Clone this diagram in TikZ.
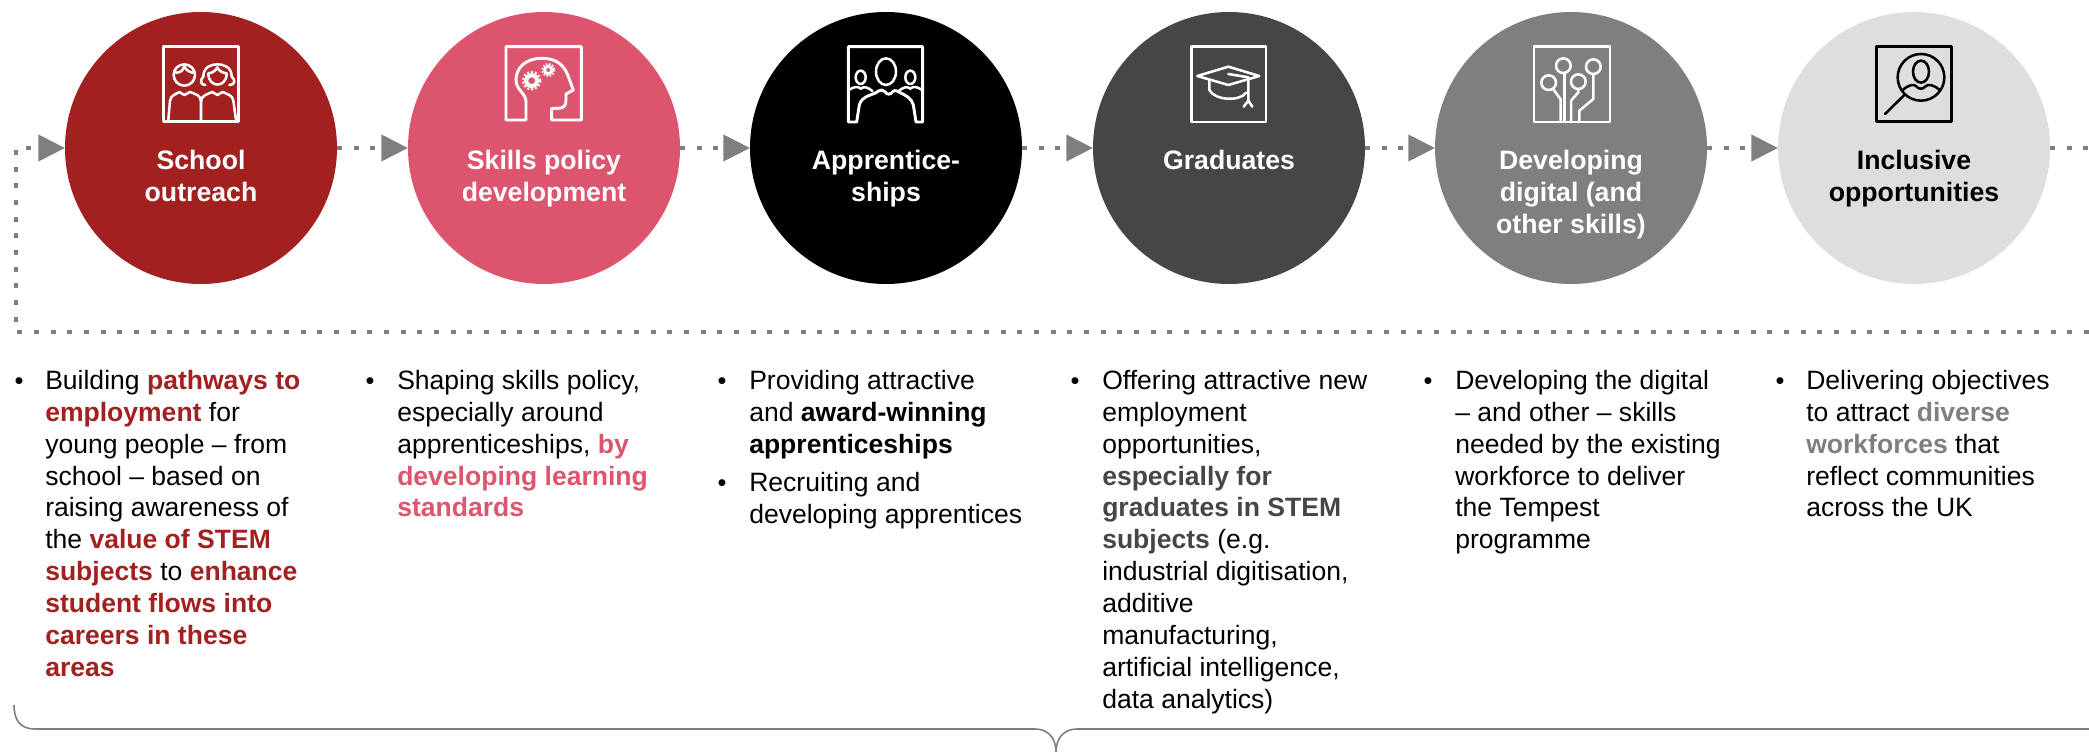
\documentclass[tikz,border=0pt]{standalone}
\usepackage{fontspec}
\setmainfont{Liberation Sans}
\usetikzlibrary{arrows.meta}
\definecolor{cred}{HTML}{A32020}
\definecolor{cpink}{HTML}{DC546E}
\definecolor{cdark}{HTML}{464646}
\definecolor{cgrey}{HTML}{7F7F7F}
\definecolor{clight}{HTML}{DEDEDE}
\newcommand{\hlt}[2]{\textbf{\textcolor{#1}{#2}}}
\tikzset{
  circ/.style={circle,draw=none,minimum size=204pt,inner sep=0pt,outer sep=0pt},
  head/.style={anchor=north,align=center,inner sep=0pt,font=\fontsize{20}{24}\selectfont\bfseries},
  bodytext/.style={anchor=north west,align=left,inner sep=0pt,font=\fontsize{19.9}{23.9}\selectfont},
  bullet/.style={anchor=base,inner sep=0pt,font=\fontsize{19}{20}\selectfont},
  dotline/.style={draw=cgrey,line width=3pt,dash pattern=on 3.75pt off 8.75pt},
  arrowline/.style={dotline,-{Triangle[length=20pt,width=19.5pt,fill=cgrey]}},
  icon/.style={line width=2.2pt,line join=round,line cap=round},
  thin icon/.style={line width=1.9pt,line join=round,line cap=round},
  bracel/.style={draw=cgrey,line width=1.2pt},
}
\begin{document}
\begin{tikzpicture}[x=.75pt,y=-.75pt]
\useasboundingbox (0,0) rectangle (2089,752);
% circles
\node[circ,fill=cred]   (c1) at (201,148) {};
\node[circ,fill=cpink]  (c2) at (544,148) {};
\node[circ,fill=black]  (c3) at (886,148) {};
\node[circ,fill=cdark]  (c4) at (1229,148) {};
\node[circ,fill=cgrey]  (c5) at (1571,148) {};
\node[circ,fill=clight] (c6) at (1914,148) {};
% free ends
\coordinate (rt) at (2089,148);
\coordinate (rb) at (2089,332);
\coordinate (lb) at (16,332);
\coordinate (lt) at (16,148);
% connectors
\draw[arrowline] (rb) -- (lb) -- (lt) -- (c1.west);
\draw[arrowline] (c1.east) -- (c2.west);
\draw[arrowline] (c2.east) -- (c3.west);
\draw[arrowline] (c3.east) -- (c4.west);
\draw[arrowline] (c4.east) -- (c5.west);
\draw[arrowline] (c5.east) -- (c6.west);
\draw[dotline] (c6.east) -- (rt);
% headings
\node[head,text=white] (t1) at (201,150) {School\\outreach};
\node[head,text=white] (t2) at (544,150) {Skills policy\\development};
\node[head,text=white] (t3) at (886,150) {Apprentice-\\ships};
\node[head,text=white] (t4) at (1229,150) {Graduates};
\node[head,text=white] (t5) at (1571,150) {Developing\\digital (and\\other skills)};
\node[head,text=black] (t6) at (1914,150) {Inclusive\\opportunities};
% icon 1
\begin{scope}[shift={(140,30)},x=.25pt,y=-.25pt,draw=white,icon]
\draw (70,50) rectangle (296,274);
\draw[thin icon] (133,135) circle[radius=32];
\draw[thin icon] (108,128) .. controls (125,128) and (130,118) .. (133,110) .. controls (140,122) and (150,128) .. (162,128);
\draw[thin icon] (205,130) .. controls (205,175) and (260,175) .. (260,130) .. controls (250,130) and (235,122) .. (232,112) .. controls (228,122) and (215,130) .. (205,130);
\draw[thin icon] (196,165) .. controls (180,165) and (180,150) .. (190,140) .. controls (190,110) and (215,103) .. (232,103) .. controls (250,103) and (275,110) .. (275,140) .. controls (288,150) and (285,165) .. (268,165);
\draw[thin icon] (85,270) -- (90,212) .. controls (92,195) and (110,192) .. (118,186) -- (133,195) -- (150,186) .. controls (165,192) and (183,195) .. (183,215) -- (183,270);
\draw[thin icon] (183,215) .. controls (183,195) and (205,192) .. (217,186) -- (232,195) -- (248,186) .. controls (260,192) and (278,195) .. (280,212) -- (288,270);
\end{scope}
% icon 2
\begin{scope}[shift={(490,30)},x=.25pt,y=-.25pt,draw=white,icon]
\draw (108,270) -- (48,270) -- (48,50) -- (274,50) -- (274,270) -- (185,270) -- (185,235) -- (205,235) .. controls (222,235) and (228,225) .. (228,212) -- (228,192) -- (250,180) -- (238,148) .. controls (225,105) and (200,85) .. (155,85) .. controls (105,85) and (78,115) .. (78,150) .. controls (78,180) and (108,190) .. (108,215) -- cycle;
\draw[line width=3pt,line cap=butt] (125,152) circle[radius=17];
\draw[line width=1.6pt,line cap=butt,dash pattern=on 1.5pt off 1.5pt] (125,152) circle[radius=26];
\draw[line width=2.2pt,line cap=butt] (175,120) circle[radius=11];
\draw[line width=1.4pt,line cap=butt,dash pattern=on 1.2pt off 1.2pt] (175,120) circle[radius=18];
\end{scope}
% icon 3
\begin{scope}[shift={(830,30)},x=.25pt,y=-.25pt,draw=white,icon]
\draw (80,276) -- (55,276) -- (55,50) -- (278,50) -- (278,276) -- (258,276) -- (250,225) .. controls (245,205) and (230,198) .. (205,185) .. controls (195,180) and (190,182) .. (188,185) .. controls (182,195) and (170,195) .. (165,185) .. controls (160,180) and (150,178) .. (145,183) .. controls (135,195) and (95,195) .. (88,225) -- cycle;
\draw[thin icon] (168,125) ellipse[x radius=30,y radius=40];
\draw[thin icon] (92,142) ellipse[x radius=15,y radius=20];
\draw[thin icon] (241,142) ellipse[x radius=15,y radius=20];
\draw[thin icon] (57,180) .. controls (70,170) and (85,168) .. (92,176) .. controls (100,168) and (115,172) .. (127,183);
\draw[thin icon] (276,180) .. controls (263,170) and (248,168) .. (241,176) .. controls (233,168) and (218,172) .. (206,183);
\end{scope}
% icon 4
\begin{scope}[shift={(1180,30)},x=.25pt,y=-.25pt,draw=white,icon]
\draw (34,50) rectangle (258,276);
\draw[thin icon] (145,110) -- (238,138) -- (145,165) -- (52,138) -- cycle;
\draw[thin icon] (88,152) -- (88,180) .. controls (105,212) and (180,215) .. (198,188);
\draw[thin icon] (145,132) -- (205,142) -- (205,212);
\draw[thin icon] (191,230) -- (205,212) -- (217,230);
\end{scope}
% icon 5
\begin{scope}[shift={(1520,30)},x=.25pt,y=-.25pt,draw=white,icon]
\draw (42,50) rectangle (270,276);
\draw[thin icon] (86,158) circle[radius=22];
\draw[thin icon] (130,107) circle[radius=22];
\draw[thin icon] (175,155) circle[radius=22];
\draw[thin icon] (220,110) circle[radius=22];
\draw[thin icon] (100,178) -- (122,208) -- (122,272);
\draw[thin icon] (134,129) -- (134,272);
\draw[thin icon] (175,177) -- (175,187) -- (153,212) -- (153,272);
\draw[thin icon] (220,132) -- (220,207) -- (178,242) -- (178,272);
\end{scope}
% icon 6
\begin{scope}[shift={(1865,30)},x=.25pt,y=-.25pt,draw=black,icon]
\draw (34,50) rectangle (259,275);
\draw[thin icon] (168,142) circle[radius=70];
\draw[thin icon] (168,125) ellipse[x radius=24,y radius=33];
\draw[thin icon] (113,180) .. controls (130,165) and (148,160) .. (155,170) .. controls (160,178) and (175,178) .. (180,170) .. controls (188,160) and (208,165) .. (224,180);
\draw[thin icon] (118,195) -- (60,252);
\end{scope}
% body text
\node[bullet] (b1) at (19,389) {•};
\node[bodytext] (x1) at (45,370) {Building \hlt{cred}{pathways to}\\\hlt{cred}{employment} for\\young people – from\\school – based on\\raising awareness of\\the \hlt{cred}{value of STEM}\\\hlt{cred}{subjects} to \hlt{cred}{enhance}\\\hlt{cred}{student flows into}\\\hlt{cred}{careers in these}\\\hlt{cred}{areas}};
\node[bullet] (b2) at (370,389) {•};
\node[bodytext] (x2) at (397,370) {Shaping skills policy,\\especially around\\apprenticeships, \hlt{cpink}{by}\\\hlt{cpink}{developing learning}\\\hlt{cpink}{standards}};
\node[bullet] (b3) at (722,389) {•};
\node[bodytext] (x3) at (749,370) {Providing attractive\\and \textbf{award-winning}\\\textbf{apprenticeships}};
\node[bullet] (b3b) at (722,491) {•};
\node[bodytext] (x3b) at (749,472) {Recruiting and\\developing apprentices};
\node[bullet] (b4) at (1075,389) {•};
\node[bodytext] (x4) at (1102,370) {Offering attractive new\\employment\\opportunities,\\\hlt{cdark}{especially for}\\\hlt{cdark}{graduates in STEM}\\\hlt{cdark}{subjects} (e.g.\\industrial digitisation,\\additive\\manufacturing,\\artificial intelligence,\\data analytics)};
\node[bullet] (b5) at (1428,389) {•};
\node[bodytext] (x5) at (1455,370) {Developing the digital\\– and other – skills\\needed by the existing\\workforce to deliver\\the Tempest\\programme};
\node[bullet] (b6) at (1780,389) {•};
\node[bodytext] (x6) at (1806,370) {Delivering objectives\\to attract \hlt{cgrey}{diverse}\\\hlt{cgrey}{workforces} that\\reflect communities\\across the UK};
% brace
\coordinate (bl) at (14,705);
\coordinate (bm) at (1056,752);
\coordinate (br) at (2089,729);
\draw[bracel] (bl) .. controls (14,720) and (20,729) .. (35,729) -- (1035,729) .. controls (1048,729) and (1056,738) .. (bm) .. controls (1056,738) and (1064,729) .. (1077,729) -- (br);
\end{tikzpicture}
\end{document}
